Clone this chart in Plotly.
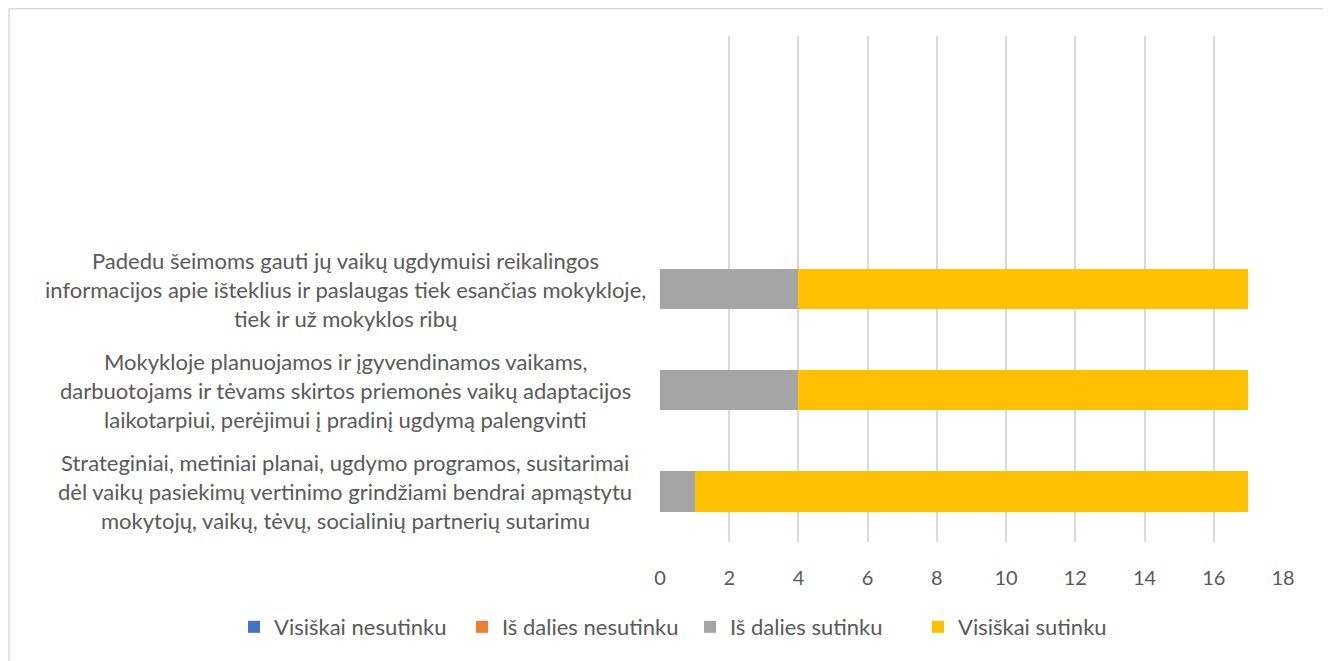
import plotly.graph_objects as go

# categories, bottom to top as drawn
categories = [
    "Strateginiai, metiniai planai, ugdymo programos, susitarimai<br>dėl vaikų pasiekimų vertinimo grindžiami bendrai apmąstytu<br>mokytojų, vaikų, tėvų, socialinių partnerių sutarimu",
    "Mokykloje planuojamos ir įgyvendinamos vaikams,<br>darbuotojams ir tėvams skirtos priemonės vaikų adaptacijos<br>laikotarpiui, perėjimui į pradinį ugdymą palengvinti",
    "Padedu šeimoms gauti jų vaikų ugdymuisi reikalingos<br>informacijos apie išteklius ir paslaugas tiek esančias mokykloje,<br>tiek ir už mokyklos ribų",
]
series_names = ["Visiškai nesutinku", "Iš dalies nesutinku", "Iš dalies sutinku", "Visiškai sutinku"]
visiskai_nesutinku = [0, 0, 0]
is_dalies_nesutinku = [0, 0, 0]
is_dalies_sutinku = [1, 4, 4]
visiskai_sutinku = [16, 13, 13]
colors = ["#4472C4", "#ED7D31", "#A5A5A5", "#FFC000"]

# page has an 8px body margin, so the figure is sized to end at the window edge
W, H = 1323, 653
L, R, T, B = 652, 48, 28, 119
pw = W - L - R
ph = H - T - B
txt = "#595959"
fnt = "Lato"

fig = go.Figure()
for name, vals, c in zip(series_names,
                         [visiskai_nesutinku, is_dalies_nesutinku, is_dalies_sutinku, visiskai_sutinku],
                         colors):
    fig.add_trace(go.Bar(y=list(range(len(categories))), x=vals, name=name, orientation="h",
                         marker=dict(color=c, line=dict(width=0))))

# category labels, centred, one annotation per line
for i, cat in enumerate(categories):
    lines = cat.split("<br>")
    n = len(lines)
    for j, line in enumerate(lines):
        fig.add_annotation(x=(337 - L) / pw, xref="paper", y=i, yref="y",
                           text=line, showarrow=False, xanchor="center", yanchor="middle",
                           yshift=((n - 1) / 2 - j) * 29,
                           font=dict(family=fnt, size=22, color=txt))

# chart border
def px_x(f):
    return (f - L) / pw

def px_y(f):
    return (H - B - f) / ph

fig.add_shape(type="rect", xref="paper", yref="paper",
              x0=px_x(1), x1=px_x(1317), y0=px_y(700), y1=px_y(0.75),
              line=dict(color="#D9D9D9", width=1.5), fillcolor="rgba(0,0,0,0)", layer="below")

fig.update_layout(
    width=W, height=H,
    barmode="stack", bargap=0.6,
    margin=dict(l=L, r=R, t=T, b=B, pad=0),
    plot_bgcolor="white", paper_bgcolor="white",
    font=dict(family=fnt, size=22, color=txt),
    xaxis=dict(range=[0, 18], dtick=2, showgrid=True, gridcolor="#D9D9D9", gridwidth=1.5,
               zeroline=False, showline=False, ticks="", tickfont=dict(size=20, color=txt),
               ticklabelstandoff=22),
    yaxis=dict(range=[-0.5, 4.5], showticklabels=False, showgrid=False, zeroline=False,
               showline=False),
    legend=dict(orientation="h", x=px_x(226), xanchor="left",
                y=px_y(619), yanchor="middle",
                font=dict(size=22, color=txt), traceorder="normal",
                itemwidth=30, entrywidth=183, bgcolor="rgba(0,0,0,0)"),
    showlegend=True,
)

fig.write_html("out.html")
